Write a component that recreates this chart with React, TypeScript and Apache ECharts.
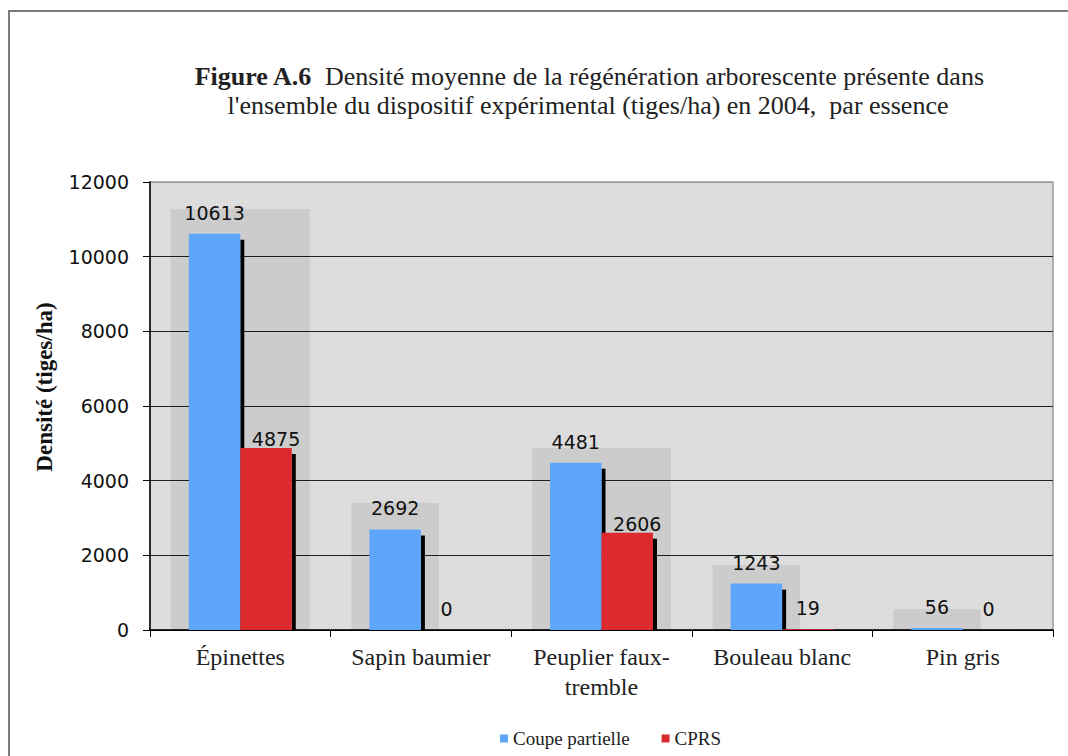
import React, { useEffect, useRef } from "react";
import * as echarts from "echarts";

const categories = ["Épinettes", "Sapin baumier", "Peuplier faux-\ntremble", "Bouleau blanc", "Pin gris"];
const coupePartielle = [10613, 2692, 4481, 1243, 56];
const cprs = [4875, 0, 2606, 19, 0];
const shadeTops = [11280, 3400, 4880, 1740, 560];
const seriesNames = ["Coupe partielle", "CPRS"];
const yMin = 0;
const yMax = 12000;
const yInterval = 2000;

const BLUE = "#5ea6fa";
const RED = "#dc2a2e";
const BAR_RATIO = 0.285;

function barRender(which: number, color: string) {
  return (params: any, api: any) => {
    const idx = api.value(0);
    const v = api.value(1);
    const base = api.coord([idx, 0]);
    const topPt = api.coord([idx, v]);
    const cx = base[0];
    const y0 = base[1];
    const yt = topPt[1];
    const bandW = api.size([1, 0])[0];
    const bw = bandW * BAR_RATIO;
    const x = which === 0 ? cx - bw : cx;
    const h = y0 - yt;
    const children: any[] = [];
    if (h > 6) {
      children.push({
        type: "rect",
        shape: { x: x + bw, y: yt + 6, width: 4, height: h - 6 },
        style: { fill: "#000" },
      });
    }
    if (h > 0) {
      children.push({
        type: "rect",
        shape: { x, y: yt, width: bw, height: h },
        style: { fill: color },
      });
    }
    let lx = x + bw / 2;
    let ly = yt - 21;
    if (which === 1 && v > 1000) {
      lx += 10;
      ly = yt - 9;
    }
    children.push({
      type: "text",
      x: lx,
      y: ly,
      style: {
        text: String(v),
        fill: "#111",
        fontFamily: "DejaVu Sans",
        fontSize: 19,
        textAlign: "center",
        textVerticalAlign: "middle",
        align: "center",
        verticalAlign: "middle",
      },
    });
    return { type: "group", children };
  };
}

function shadeRender(params: any, api: any) {
  const idx = api.value(0);
  const t = api.value(1);
  const base = api.coord([idx, 0]);
  const topPt = api.coord([idx, t]);
  const cx = base[0];
  const bandW = api.size([1, 0])[0];
  const bw = bandW * BAR_RATIO;
  const both = cprs[idx] > 100;
  const pad = 18;
  const x0 = cx - bw - pad;
  const x1 = (both ? cx + bw : cx) + pad;
  return {
    type: "rect",
    shape: { x: x0, y: topPt[1], width: x1 - x0, height: base[1] - topPt[1] },
    style: { fill: "rgba(0,0,0,0.075)" },
  };
}

export default function App() {
  const ref = useRef<HTMLDivElement>(null);
  useEffect(() => {
    if (!ref.current) return;
    const chart = echarts.init(ref.current, undefined, { renderer: "svg" });
    const option: any = {
      animation: false,
      backgroundColor: "#ffffff",
      grid: {
        left: 150,
        top: 182,
        right: 15,
        bottom: 126,
        show: true,
        backgroundColor: "#dddddd",
        borderColor: "#9a9a9a",
        borderWidth: 1.5,
        containLabel: false,
      },
      legend: {
        data: seriesNames,
        left: 495,
        top: 724,
        icon: "rect",
        itemWidth: 8,
        itemHeight: 8,
        itemGap: 32,
        textStyle: { fontFamily: "Liberation Serif", fontSize: 19, color: "#222" },
      },
      xAxis: {
        type: "category",
        data: categories,
        axisLine: { show: true, lineStyle: { color: "#000", width: 1.5 } },
        axisTick: { show: true, length: 7, lineStyle: { color: "#000" } },
        axisLabel: {
          fontFamily: "Liberation Serif",
          fontSize: 24,
          color: "#222",
          lineHeight: 30,
          margin: 12,
          interval: 0,
        },
        splitLine: { show: false },
      },
      yAxis: {
        type: "value",
        min: yMin,
        max: yMax,
        interval: yInterval,
        axisLine: { show: true, lineStyle: { color: "#000", width: 1.5 } },
        axisTick: { show: true, length: 7, lineStyle: { color: "#000" } },
        axisLabel: {
          fontFamily: "DejaVu Sans",
          fontSize: 19,
          color: "#111",
          margin: 21,
          formatter: (v: number) => String(v),
        },
        splitLine: {
          show: true,
          lineStyle: { color: ["#000", "#222", "#222", "#222", "#222", "#222", "#9a9a9a"], width: 1 },
        },
      },
      graphic: [
        {
          type: "rect",
          shape: { x: 9, y: 11, width: 1200, height: 1000 },
          style: { fill: "none", stroke: "#7a7a7a", lineWidth: 2 },
          silent: true,
        },
        {
          type: "text",
          x: 589,
          y: 76,
          style: {
            text: "{b|Figure A.6}  Densité moyenne de la régénération arborescente présente dans",
            fontFamily: "Liberation Serif",
            fontSize: 26,
            fill: "#222",
            textAlign: "center",
            textVerticalAlign: "middle",
            rich: {
              b: { fontFamily: "Liberation Serif", fontSize: 26, fontWeight: "bold", fill: "#222" },
            },
          },
        },
        {
          type: "text",
          x: 588,
          y: 105,
          style: {
            text: "l'ensemble du dispositif expérimental (tiges/ha) en 2004,  par essence",
            fontFamily: "Liberation Serif",
            fontSize: 26,
            fill: "#222",
            textAlign: "center",
            textVerticalAlign: "middle",
          },
        },
        {
          type: "text",
          x: 44,
          y: 387,
          rotation: Math.PI / 2,
          style: {
            text: "Densité (tiges/ha)",
            fontFamily: "Liberation Serif",
            fontSize: 23,
            fontWeight: "bold",
            fill: "#111",
            textAlign: "center",
            textVerticalAlign: "middle",
          },
        },
      ],
      series: [
        {
          type: "custom",
          name: "shade",
          silent: true,
          clip: false,
          renderItem: shadeRender,
          encode: { x: 0, y: 1 },
          data: shadeTops.map((v, i) => [i, v]),
          z: 1,
        },
        {
          type: "custom",
          name: seriesNames[0],
          clip: false,
          itemStyle: { color: BLUE },
          renderItem: barRender(0, BLUE),
          encode: { x: 0, y: 1 },
          data: coupePartielle.map((v, i) => [i, v]),
          z: 2,
        },
        {
          type: "custom",
          name: seriesNames[1],
          clip: false,
          itemStyle: { color: RED },
          renderItem: barRender(1, RED),
          encode: { x: 0, y: 1 },
          data: cprs.map((v, i) => [i, v]),
          z: 3,
        },
      ],
    };
    chart.setOption(option);
    return () => chart.dispose();
  }, []);
  return (
    <div
      ref={ref}
      style={{ position: "absolute", left: 0, top: 0, width: 1068, height: 756, background: "#fff" }}
    />
  );
}
